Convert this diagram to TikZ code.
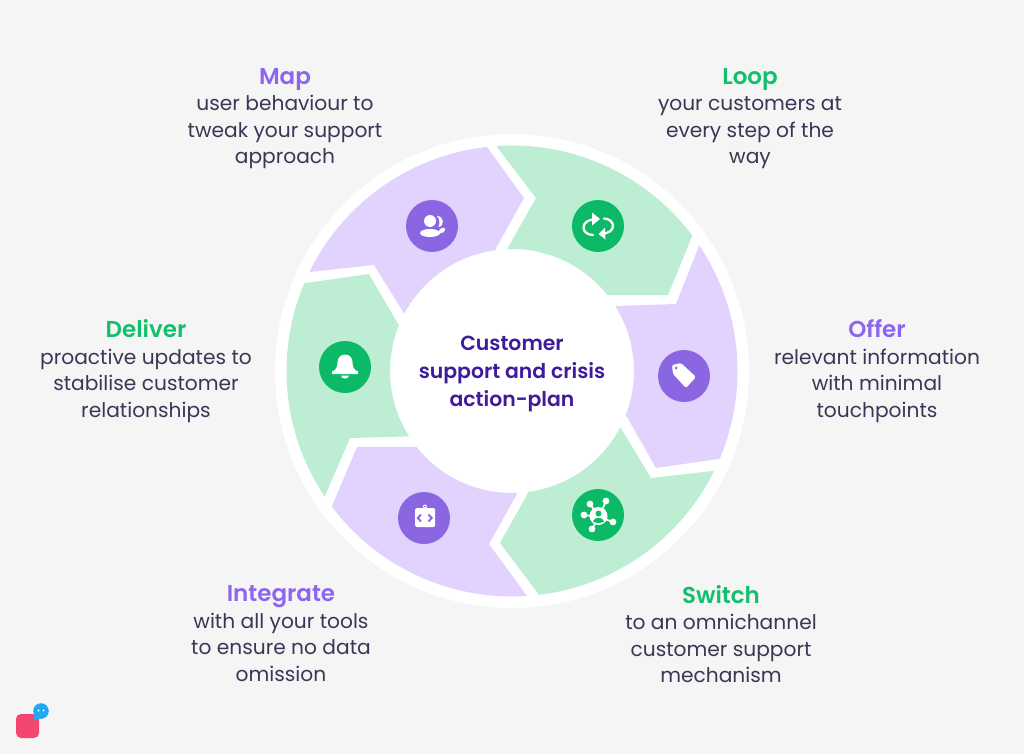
\documentclass[tikz,border=0pt]{standalone}
\usepackage{fontspec}
\setmainfont{Poppins}[BoldFont={Poppins SemiBold}]
\definecolor{pagebg}{HTML}{F5F5F5}
\definecolor{lav}{HTML}{E1D3FD}
\definecolor{mint}{HTML}{BDEDD3}
\definecolor{violetdot}{HTML}{8A66E3}
\definecolor{greendot}{HTML}{0CB966}
\definecolor{violettitle}{HTML}{8C66EE}
\definecolor{greentitle}{HTML}{12BF6D}
\definecolor{inktext}{HTML}{3A3756}
\definecolor{centertext}{HTML}{3E1C9C}
\definecolor{logopink}{HTML}{F4476F}
\definecolor{logoblue}{HTML}{1FA9F4}
\tikzset{
  seglav/.style={fill=lav,draw=none},
  segmint/.style={fill=mint,draw=none},
  dotv/.style={circle,fill=violetdot,minimum size=52pt,inner sep=0pt},
  dotg/.style={circle,fill=greendot,minimum size=52pt,inner sep=0pt},
  glyph/.style={fill=white,draw=none},
  glyphline/.style={draw=white,line width=2.3pt,line cap=round},
  label/.style={align=center,text=inktext,font=\fontsize{20.2}{26.5}\selectfont,inner sep=0pt},
  center text/.style={align=center,text=centertext,font=\fontsize{20.4}{28}\selectfont\bfseries,inner sep=0pt},
}
\newcommand{\ttl}[2]{{\color{#1}\fontsize{23}{27}\selectfont\bfseries #2}}
\begin{document}
\begin{tikzpicture}[x=1pt,y=-1pt]
\useasboundingbox (0,0) rectangle (1024,754);
\fill[pagebg] (0,0) rectangle (1024,754);
\fill[white] (512,371) circle[radius=237pt];
% segments
\fill[seglav] (374,265) -- (310,272) -- plot[domain=-153.9:-96.4,samples=50] ({512+225.5*cos(\x)},{371+225.5*sin(\x)}) -- (524,198) -- (496,248) -- plot[domain=-97.4:-152,samples=40] ({512+122*cos(\x)},{371+122*sin(\x)}) -- cycle;
\fill[segmint] (536,198) -- (497,147) -- plot[domain=-93.8:-36.9,samples=50] ({512+225.5*cos(\x)},{371+225.5*sin(\x)}) -- (668,295) -- (608,295) -- plot[domain=-38.4:-92.3,samples=40] ({512+122*cos(\x)},{371+122*sin(\x)}) -- cycle;
\fill[seglav] (676,304) -- (699,246) -- plot[domain=-33.8:22.9,samples=50] ({512+225.5*cos(\x)},{371+225.5*sin(\x)}) -- (656,468) -- (627,417) -- plot[domain=21.8:-32.2,samples=40] ({512+122*cos(\x)},{371+122*sin(\x)}) -- cycle;
\fill[segmint] (651,478) -- (713,471) -- plot[domain=26.4:83.1,samples=50] ({512+225.5*cos(\x)},{371+225.5*sin(\x)}) -- (500,543) -- (528,493) -- plot[domain=82.5:27.4,samples=40] ({512+122*cos(\x)},{371+122*sin(\x)}) -- cycle;
\fill[seglav] (357,447) -- (332,506) -- plot[domain=143.1:86.2,samples=50] ({512+225.5*cos(\x)},{371+225.5*sin(\x)}) -- (489,544) -- (517,494) -- plot[domain=87.7:141.6,samples=40] ({512+122*cos(\x)},{371+122*sin(\x)}) -- cycle;
\fill[segmint] (350,438) -- (325,496) -- plot[domain=146.2:202.9,samples=50] ({512+225.5*cos(\x)},{371+225.5*sin(\x)}) -- (369,274) -- (398,324) -- plot[domain=202.4:147.6,samples=40] ({512+122*cos(\x)},{371+122*sin(\x)}) -- cycle;
% icon discs
\node[dotv] (mapdot) at (432,226) {};
\node[dotg] (loopdot) at (598,226) {};
\node[dotv] (offerdot) at (684,376) {};
\node[dotg] (switchdot) at (598,515) {};
\node[dotv] (intdot) at (424,518) {};
\node[dotg] (deldot) at (345,367) {};
% map glyph
\fill[glyph] (430,221) circle[radius=6pt];
\fill[glyph] (430,233) ellipse[x radius=10pt,y radius=4pt];
\fill[glyph] (437,216) .. controls (444,216) and (445,226) .. (438.5,227) .. controls (440,223) and (440,219.5) .. (437,216) -- cycle;
\fill[glyph,rotate around={35:(442,230.5)}] (442,230.5) ellipse[x radius=3.6pt,y radius=2.2pt];
% loop glyph
\draw[glyphline] (594,219.5) .. controls (588,219.5) and (583.5,223) .. (583.5,227.5) .. controls (583.5,232) and (588,235) .. (593,235);
\fill[glyph] (592,212.5) -- (600,219) -- (592,225.5) -- cycle;
\draw[glyphline] (604,218.5) .. controls (609,218.5) and (613,222) .. (613,226) .. controls (613,230.5) and (608,233.5) .. (603,233.5);
\fill[glyph] (605,227.5) -- (598.5,234) -- (605.5,239.5) -- cycle;
% tag glyph
\fill[glyph,rounded corners=1.5pt] (672,365) -- (681,363) -- (696,377) -- (686,388) -- (673,374) -- cycle;
\fill[violetdot] (676,368) circle[radius=1.5pt];
% hub glyph
\foreach \hx/\hy in {590/504,606/501,584/515,613/522,592/529}{
  \draw[white,line width=1.7pt] (599,517) -- (\hx,\hy);
  \fill[glyph] (\hx,\hy) circle[radius=3.4pt];
}
\fill[glyph] (598.5,516) circle[radius=9pt];
\fill[greendot] (598.5,513.5) circle[radius=3pt];
\fill[greendot] (593,521.5) .. controls (594,516.5) and (603,516.5) .. (604,521.5) .. controls (601,523.5) and (596,523.5) .. (593,521.5) -- cycle;
% clipboard glyph
\fill[glyph,rounded corners=1.5pt] (415,508) rectangle (435,527);
\fill[glyph] (425,506.5) circle[radius=2pt];
\fill[violetdot] (425,506.5) circle[radius=0.8pt];
\draw[violetdot,line width=1.9pt] (421,514.5) -- (417.8,518) -- (421,521.5);
\draw[violetdot,line width=1.9pt] (428.5,514.5) -- (431.7,518) -- (428.5,521.5);
% bell glyph
\fill[glyph] (332,374) -- (332,371.5) .. controls (336,370) and (337.5,367) .. (337.5,362) .. controls (337.5,357.5) and (341,354.5) .. (345,354.5) .. controls (349,354.5) and (352.5,357.5) .. (352.5,362) .. controls (352.5,367) and (354,370) .. (358,371.5) -- (358,374) -- cycle;
\fill[glyph] (341,375.5) -- (349,375.5) .. controls (348.5,379.5) and (341.5,379.5) .. (341,375.5) -- cycle;
% centre
\node[center text] (hub) at (512,374) {Customer\\support and crisis\\action-plan};
% labels
\node[label,anchor=north] (map) at (285,68) {\ttl{violettitle}{Map}\\user behaviour to\\tweak your support\\approach};
\node[label,anchor=north] (loop) at (750,68) {\ttl{greentitle}{Loop}\\your customers at\\every step of the\\way};
\node[label,anchor=north] (offer) at (877,319.5) {\ttl{violettitle}{Offer}\\relevant information\\with minimal\\touchpoints};
\node[label,anchor=north] (switch) at (721,585) {\ttl{greentitle}{Switch}\\to an omnichannel\\customer support\\mechanism};
\node[label,anchor=north] (integrate) at (281,585.5) {\ttl{violettitle}{Integrate}\\with all your tools\\to ensure no data\\omission};
\node[label,anchor=north] (deliver) at (146,319.5) {\ttl{greentitle}{Deliver}\\proactive updates to\\stabilise customer\\relationships};
% logo
\fill[logopink,rounded corners=5pt] (16,714) rectangle (39,738);
\fill[logoblue] (41,711) circle[radius=7.8pt];
\fill[logoblue] (34,720.5) -- (35,710) -- (43,717) -- cycle;
\fill[white] (38.5,710.5) circle[radius=1.2pt];
\fill[white] (43.5,710.5) circle[radius=1.2pt];
\end{tikzpicture}
\end{document}
